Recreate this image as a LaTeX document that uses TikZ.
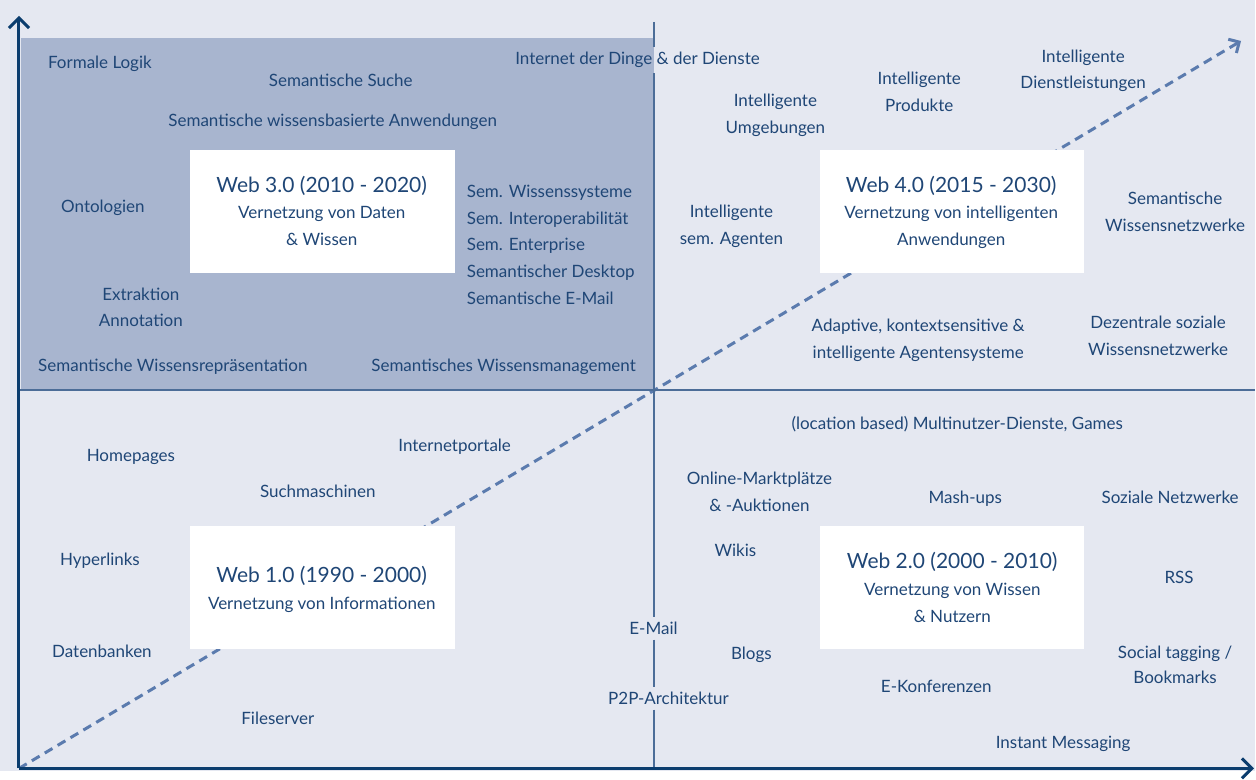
\documentclass[tikz,border=0pt]{standalone}
\usepackage{fontspec}
\setmainfont{Lato}
\usetikzlibrary{arrows.meta}
\definecolor{bgc}{HTML}{E5E8F1}
\definecolor{shadec}{HTML}{A8B5CF}
\definecolor{axisc}{HTML}{0B3D6E}
\definecolor{gridc}{HTML}{4C6D98}
\definecolor{dashc}{HTML}{5B7BAE}
\definecolor{txt}{HTML}{1F4676}
\begin{document}
\begin{tikzpicture}[x=1pt,y=-1pt,
  lbl/.style={text=txt,font=\fontsize{17}{27}\selectfont,anchor=base,inner sep=1pt},
  lleft/.style={lbl,anchor=base west},
  title/.style={lbl,font=\fontsize{21}{27}\selectfont},
  gap/.style={outer ysep=4pt},
  box/.style={fill=white,draw=none,anchor=north west,minimum width=265pt,minimum height=123pt,inner sep=0pt},
  axis/.style={draw=axisc,line width=3pt,-{Straight Barb[length=10pt,width=20pt,line width=3pt]}},
  gridline/.style={draw=gridc,line width=2pt},
  diag/.style={draw=dashc,line width=3pt,dash pattern=on 9pt off 6pt,-{Straight Barb[length=8pt,width=16pt,line width=3pt]}}]

% canvas and shaded Web 3.0 quadrant
\fill[bgc] (0,0) rectangle (1256,772);
\fill[shadec] (21,38) rectangle (655,389);

% coordinates of the frame
\coordinate (origin) at (19,769);
\coordinate (ytip) at (19,16);
\coordinate (xtip) at (1255,769);
\coordinate (vtop) at (655,22);
\coordinate (vbot) at (655,769);
\coordinate (hleft) at (19,390);
\coordinate (hright) at (1256,390);
\coordinate (dend) at (1242,41);

% growth direction
\draw[diag] (origin) -- (dend);

% the four generations
\node[box] (b3) at (190,150) {};
\node[box] (b4) at (820,150) {};
\node[box] (b1) at (190,526) {};
\node[box] (b2) at (820,526) {};

\node[title] (t3) at (322,193) {Web 3.0 (2010 - 2020)};
\node[lbl] (t3a) at (322,219) {Vernetzung von Daten};
\node[lbl] (t3b) at (322,246) {\& Wissen};

\node[title] (t4) at (952,193) {Web 4.0 (2015 - 2030)};
\node[lbl] (t4a) at (952,219) {Vernetzung von intelligenten};
\node[lbl] (t4b) at (952,246) {Anwendungen};

\node[title] (t1) at (322,583) {Web 1.0 (1990 - 2000)};
\node[lbl] (t1a) at (322,610) {Vernetzung von Informationen};

\node[title] (t2) at (953,569) {Web 2.0 (2000 - 2010)};
\node[lbl] (t2a) at (953,596) {Vernetzung von Wissen};
\node[lbl] (t2b) at (953,623) {\& Nutzern};

% Web 3.0 quadrant
\node[lbl] (flogik) at (100,69) {Formale Logik};
\node[lbl] (ssuche) at (341,87) {Semantische Suche};
\node[lbl] (swanw) at (333,127) {Semantische wissensbasierte Anwendungen};
\node[lbl,gap] (inet) at (638,65) {Internet der Dinge \& der Dienste};
\node[lbl] (onto) at (103,213) {Ontologien};
\node[lleft] (sws) at (466,198) {Sem. Wissenssysteme};
\node[lleft] (sio) at (466,225) {Sem. Interoperabilität};
\node[lleft] (sent) at (466,251) {Sem. Enterprise};
\node[lleft] (sdesk) at (466,278) {Semantischer Desktop};
\node[lleft] (smail) at (466,305) {Semantische E-Mail};
\node[lbl] (extr) at (141,301) {Extraktion};
\node[lbl] (anno) at (141,327) {Annotation};
\node[lbl] (swr) at (173,372) {Semantische Wissensrepräsentation};
\node[lbl] (swm) at (504,372) {Semantisches Wissensmanagement};

% Web 4.0 quadrant
\node[lbl] (iu1) at (776,107) {Intelligente};
\node[lbl] (iu2) at (776,134) {Umgebungen};
\node[lbl] (ip1) at (920,85) {Intelligente};
\node[lbl] (ip2) at (920,112) {Produkte};
\node[lbl] (id1) at (1084,63) {Intelligente};
\node[lbl] (id2) at (1084,89) {Dienstleistungen};
\node[lbl] (ia1) at (732,218) {Intelligente};
\node[lbl] (ia2) at (732,245) {sem. Agenten};
\node[lbl] (sw1) at (1176,205) {Semantische};
\node[lbl] (sw2) at (1176,232) {Wissensnetzwerke};
\node[lbl] (ad1) at (919,332) {Adaptive, kontextsensitive \&};
\node[lbl] (ad2) at (919,359) {intelligente Agentensysteme};
\node[lbl] (dz1) at (1159,329) {Dezentrale soziale};
\node[lbl] (dz2) at (1159,356) {Wissensnetzwerke};

% Web 1.0 quadrant
\node[lbl] (home) at (131,462) {Homepages};
\node[lbl] (iport) at (455,452) {Internetportale};
\node[lbl] (such) at (318,498) {Suchmaschinen};
\node[lbl] (hyper) at (100,566) {Hyperlinks};
\node[lbl] (db) at (102,658) {Datenbanken};
\node[lbl] (files) at (278,725) {Fileserver};

% Web 2.0 quadrant
\node[lbl] (lbs) at (958,430) {(location based) Multinutzer-Dienste, Games};
\node[lbl] (om1) at (760,485) {Online-Marktplätze};
\node[lbl] (om2) at (760,512) {\& -Auktionen};
\node[lbl] (mash) at (966,504) {Mash-ups};
\node[lbl] (sozn) at (1171,504) {Soziale Netzwerke};
\node[lbl] (wikis) at (736,557) {Wikis};
\node[lbl] (rss) at (1180,584) {RSS};
\node[lbl,gap] (email) at (654,635) {E-Mail};
\node[lbl] (blogs) at (752,660) {Blogs};
\node[lbl] (st1) at (1176,659) {Social tagging /};
\node[lbl] (st2) at (1176,684) {Bookmarks};
\node[lbl] (ekon) at (937,693) {E-Konferenzen};
\node[lbl,gap] (p2p) at (669,705) {P2P-Architektur};
\node[lbl] (im) at (1064,749) {Instant Messaging};

% quadrant dividers
\draw[gridline] (hleft) -- (hright);
\draw[gridline] (vtop) -- (vtop |- inet.north);
\draw[gridline] (vtop |- inet.south) -- (vtop |- email.north);
\draw[gridline] (vtop |- email.south) -- (vtop |- p2p.north);
\draw[gridline] (vtop |- p2p.south) -- (vbot);

% axes
\draw[axis] (origin) -- (ytip);
\draw[axis] (origin) -- (xtip);
\end{tikzpicture}
\end{document}
